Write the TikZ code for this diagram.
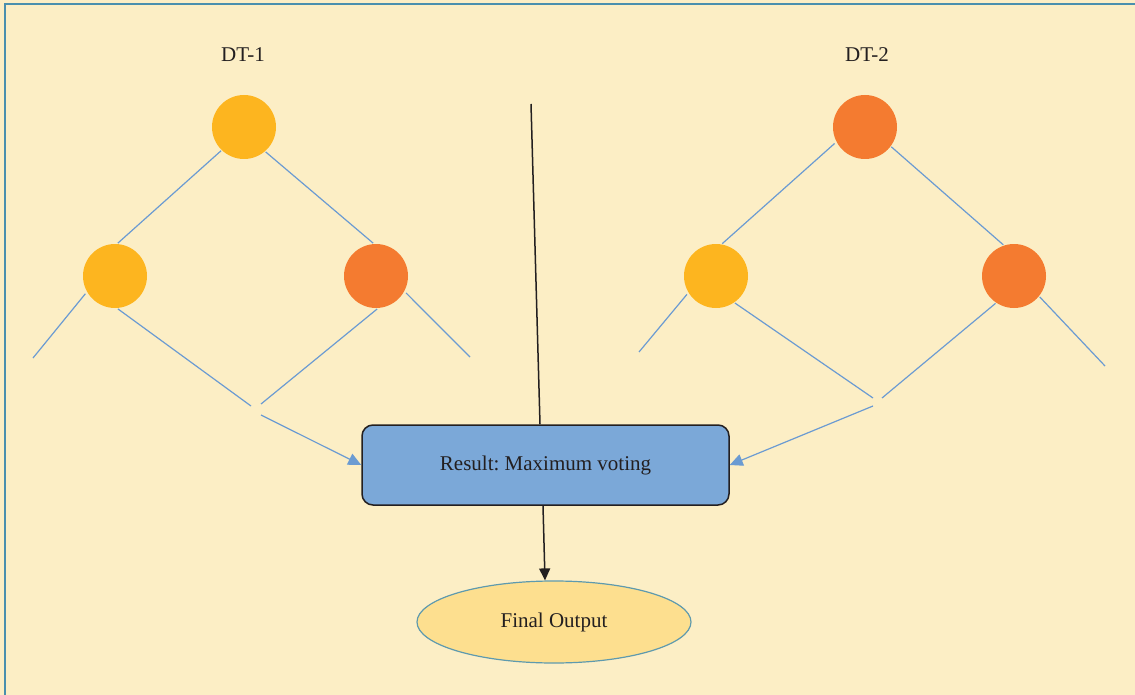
\documentclass[tikz,border=0pt]{standalone}
\usepackage{fontspec}
\setmainfont{Liberation Serif}
\usetikzlibrary{arrows.meta,shapes.geometric}
\frenchspacing
\definecolor{paper}{HTML}{FCEEC5}
\definecolor{frame}{HTML}{4A8FAE}
\definecolor{edgeblue}{HTML}{6B9BD2}
\definecolor{gold}{HTML}{FDB51F}
\definecolor{tangerine}{HTML}{F47B30}
\definecolor{boxblue}{HTML}{7BA8D8}
\definecolor{outfill}{HTML}{FDDF8F}
\definecolor{outline}{HTML}{5E9AAE}
\definecolor{ink}{HTML}{231F20}
\tikzset{
  treenode/.style={circle,minimum size=64pt,inner sep=0pt,outer sep=1pt,draw=none},
  yellownode/.style={treenode,fill=gold},
  orangenode/.style={treenode,fill=tangerine},
  branch/.style={draw=edgeblue,line width=1.2pt},
  vote/.style={branch,-{Triangle[length=13pt,width=12pt]}},
  lbl/.style={text=ink,font=\fontsize{21}{25}\selectfont},
}
\begin{document}
\begin{tikzpicture}[x=1pt,y=-1pt]
  % page and frame
  \fill[paper] (0,0) rectangle (1135,695);
  \useasboundingbox (0,0) rectangle (1135,695);
  \draw[frame,line width=1.5pt] (5,695) -- (5,4) -- (1135,4);

  % titles
  \node[lbl] (t1) at (243,55) {DT-1};
  \node[lbl] (t2) at (867,55) {DT-2};

  % first tree
  \node[yellownode] (a1) at (244,127) {};
  \node[yellownode] (a2) at (115,276) {};
  \node[orangenode] (a3) at (376,276) {};
  \coordinate (a2leaf) at (33,358);
  \coordinate (a3leaf) at (470,357);
  \coordinate (a2join) at (251,406);
  \coordinate (a3join) at (261,404);
  \coordinate (avote) at (261,415);

  % second tree
  \node[orangenode] (b1) at (865,127) {};
  \node[yellownode] (b2) at (716,276) {};
  \node[orangenode] (b3) at (1014,276) {};
  \coordinate (b2leaf) at (639,352);
  \coordinate (b3leaf) at (1105,366);
  \coordinate (b2join) at (873,398);
  \coordinate (b3join) at (882,398);
  \coordinate (bvote) at (873,406);

  % result and output
  \node[draw=ink,line width=1.5pt,fill=boxblue,rounded corners=11pt,
        minimum width=367pt,minimum height=80pt,lbl] (res) at (545.5,465) {Result: Maximum voting};
  \node[ellipse,draw=outline,line width=1.2pt,fill=outfill,
        minimum width=274pt,minimum height=82pt,inner sep=0pt,lbl] (out) at (554,622) {Final Output};
  \coordinate (top) at (531,104);

  % branches of the first tree
  \draw[branch] (a1.226) -- (a2.85);
  \draw[branch] (a1.311) -- (a3.95);
  \draw[branch] ([shift={(-4pt,3pt)}]a2.219) -- (a2leaf);
  \draw[branch] (a2.275) -- (a2join);
  \draw[branch] (a3.272) -- (a3join);
  \draw[branch] ([shift={(3pt,2pt)}]a3.325) -- (a3leaf);
  \draw[vote] (avote) -- (res.west);

  % branches of the second tree
  \draw[branch] ([shift={(-3pt,2pt)}]b1.214) -- (b2.79);
  \draw[branch] (b1.323) -- (b3.109);
  \draw[branch] ([shift={(-3pt,2pt)}]b2.218) -- (b2leaf);
  \draw[branch] (b2.305) -- (b2join);
  \draw[branch] (b3.236) -- (b3join);
  \draw[branch] ([shift={(2pt,2pt)}]b3.316) -- (b3leaf);
  \draw[vote] (bvote) -- (res.east);

  % vertical connectors
  \draw[ink,line width=1.5pt] (top) -- ([xshift=-5.5pt]res.north);
  \draw[ink,line width=1.5pt,-{Triangle[length=12pt,width=11pt]}]
    ([xshift=-2.5pt]res.south) -- ([xshift=-9pt]out.north);
\end{tikzpicture}
\end{document}
